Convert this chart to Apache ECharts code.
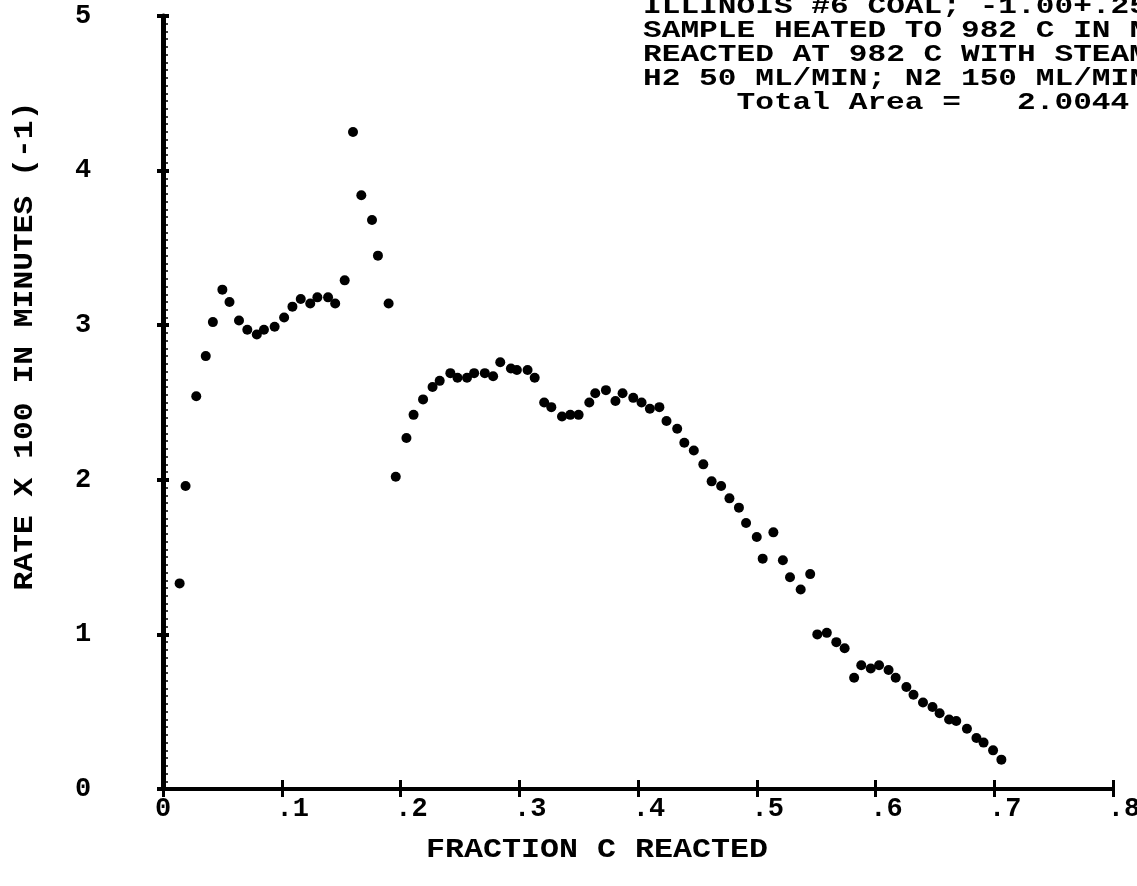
<!DOCTYPE html>
<html>
<head>
<meta charset="utf-8">
<script src="https://cdn.jsdelivr.net/npm/echarts@6/dist/echarts.min.js"></script>
<style>
  html, body { margin: 0; padding: 0; background: #fff; }
  #chart { width: 1137px; height: 886px; }
</style>
</head>
<body>
<div id="chart"></div>
<script>
// Fraction of carbon reacted (x) and gasification rate x 100, min^-1 (y)
const fractionReacted = [
  0.014, 0.019, 0.028, 0.036, 0.042, 0.050, 0.056, 0.064, 0.071, 0.079,
  0.085, 0.094, 0.102, 0.109, 0.116, 0.124, 0.130, 0.139, 0.145, 0.153,
  0.160, 0.167, 0.176, 0.181, 0.190, 0.196, 0.205, 0.211, 0.219, 0.227,
  0.233, 0.242, 0.248, 0.256, 0.262, 0.271, 0.278, 0.284, 0.293, 0.298,
  0.307, 0.313, 0.321, 0.327, 0.336, 0.343, 0.350, 0.359, 0.364, 0.373,
  0.381, 0.387, 0.396, 0.403, 0.410, 0.418, 0.424, 0.433, 0.439, 0.447,
  0.455, 0.462, 0.470, 0.477, 0.485, 0.491, 0.500, 0.505, 0.514, 0.522,
  0.528, 0.537, 0.545, 0.551, 0.559, 0.567, 0.574, 0.582, 0.588, 0.596,
  0.603, 0.611, 0.617, 0.626, 0.632, 0.640, 0.648, 0.654, 0.662, 0.668,
  0.677, 0.685, 0.691, 0.699, 0.706
];
const rateX100 = [
  1.33, 1.96, 2.54, 2.80, 3.02, 3.23, 3.15, 3.03, 2.97, 2.94,
  2.97, 2.99, 3.05, 3.12, 3.17, 3.14, 3.18, 3.18, 3.14, 3.29,
  4.25, 3.84, 3.68, 3.45, 3.14, 2.02, 2.27, 2.42, 2.52, 2.60,
  2.64, 2.69, 2.66, 2.66, 2.69, 2.69, 2.67, 2.76, 2.72, 2.71,
  2.71, 2.66, 2.50, 2.47, 2.41, 2.42, 2.42, 2.50, 2.56, 2.58,
  2.51, 2.56, 2.53, 2.50, 2.46, 2.47, 2.38, 2.33, 2.24, 2.19,
  2.10, 1.99, 1.96, 1.88, 1.82, 1.72, 1.63, 1.49, 1.66, 1.48,
  1.37, 1.29, 1.39, 1.00, 1.01, 0.95, 0.91, 0.72, 0.80, 0.78,
  0.80, 0.77, 0.72, 0.66, 0.61, 0.56, 0.53, 0.49, 0.45, 0.44,
  0.39, 0.33, 0.30, 0.25, 0.19
];

// Tick labels
const xTickLabels = ['0', '.1', '.2', '.3', '.4', '.5', '.6', '.7', '.8'];
const yTickLabels = ['0', '1', '2', '3', '4', '5'];

// Axis titles and run notes
const xTitle = 'FRACTION C REACTED';
const yTitle = 'RATE X 100 IN MINUTES (-1)';
const noteLines = [
  'ILLINOIS #6 COAL; -1.00+.25',
  'SAMPLE HEATED TO 982 C IN N',
  'REACTED AT 982 C WITH STEAM',
  'H2 50 ML/MIN; N2 150 ML/MIN'
];
const areaLine = 'Total Area =   2.0044';

const MONO = '"Liberation Mono", "DejaVu Sans Mono", monospace';

// Typewriter-style text: monospace glyphs stretched to a wide character pitch
function typeText(text, x, y, size, pitch, align, rotation) {
  return {
    type: 'text',
    x: x, y: y,
    rotation: rotation || 0,
    scaleX: pitch / (size * 0.6),
    silent: true,
    style: {
      text: text,
      fontFamily: MONO,
      fontWeight: 'bold',
      fontSize: size,
      fill: '#000',
      align: align, verticalAlign: 'middle',
      textAlign: align, textVerticalAlign: 'middle'
    }
  };
}

const chart = echarts.init(document.getElementById('chart'), null, { renderer: 'canvas' });

const points = fractionReacted.map((f, i) => [f, rateX100[i]]);

const notePitch = 18.7;
const noteX = 643;
const noteY0 = 7;
const noteStep = 24;

const graphics = noteLines.map((t, i) => typeText(t, noteX, noteY0 + i * noteStep, 24, notePitch, 'left'));
graphics.push(typeText(areaLine, noteX + 5 * notePitch, noteY0 + 4 * noteStep, 24, notePitch, 'left'));
graphics.push(typeText(xTitle, 597, 850, 27, 19, 'center'));
graphics.push(typeText(yTitle, 25, 346, 27, 18.8, 'center', Math.PI / 2));

const labelFont = { fontFamily: MONO, fontWeight: 'bold', fontSize: 27, color: '#000' };

chart.setOption({
  animation: false,
  backgroundColor: '#fff',
  grid: {
    left: 163, right: 24, top: 16, bottom: 97,
    containLabel: false,
    outerBoundsMode: 'none'
  },
  xAxis: [
    {
      type: 'value', min: 0, max: 0.8, interval: 0.1, position: 'bottom',
      axisLine: { show: true, onZero: false, lineStyle: { color: '#000', width: 4 } },
      axisTick: { show: true, inside: false, length: 8, lineStyle: { color: '#000', width: 3 } },
      splitLine: { show: false },
      axisLabel: {
        show: true, margin: 7,
        formatter: (v, i) => (i === 0 ? '{z|' : '{d|') + xTickLabels[i] + '}',
        rich: {
          z: Object.assign({}, labelFont),
          d: Object.assign({ padding: [0, 0, 0, 22] }, labelFont)
        }
      }
    },
    {
      type: 'value', min: 0, max: 0.8, interval: 0.1, position: 'bottom', offset: 0,
      axisLine: { show: false },
      axisTick: { show: true, inside: true, length: 9, lineStyle: { color: '#000', width: 3 } },
      axisLabel: { show: false },
      splitLine: { show: false }
    }
  ],
  yAxis: [
    {
      type: 'value', min: 0, max: 5, interval: 1, position: 'left',
      axisLine: { show: true, onZero: false, lineStyle: { color: '#000', width: 5 } },
      axisTick: { show: true, inside: false, length: 6, lineStyle: { color: '#000', width: 4 } },
      splitLine: { show: false },
      axisLabel: Object.assign({
        show: true, margin: 80, align: 'center',
        formatter: (v, i) => yTickLabels[i]
      }, labelFont)
    },
    {
      type: 'value', min: 0, max: 5, interval: 1, position: 'left', offset: 0,
      axisLine: { show: false },
      axisTick: { show: true, inside: true, length: 6, lineStyle: { color: '#000', width: 4 } },
      minorTick: { show: true, splitNumber: 20, length: 5, lineStyle: { color: '#000', width: 1.5 } },
      axisLabel: { show: false },
      splitLine: { show: false },
      minorSplitLine: { show: false }
    }
  ],
  series: [
    {
      type: 'scatter',
      xAxisIndex: 0, yAxisIndex: 0,
      data: points,
      symbol: 'circle',
      symbolSize: 10,
      itemStyle: { color: '#000', opacity: 1 },
      silent: true
    }
  ],
  graphic: graphics
});
</script>
</body>
</html>
